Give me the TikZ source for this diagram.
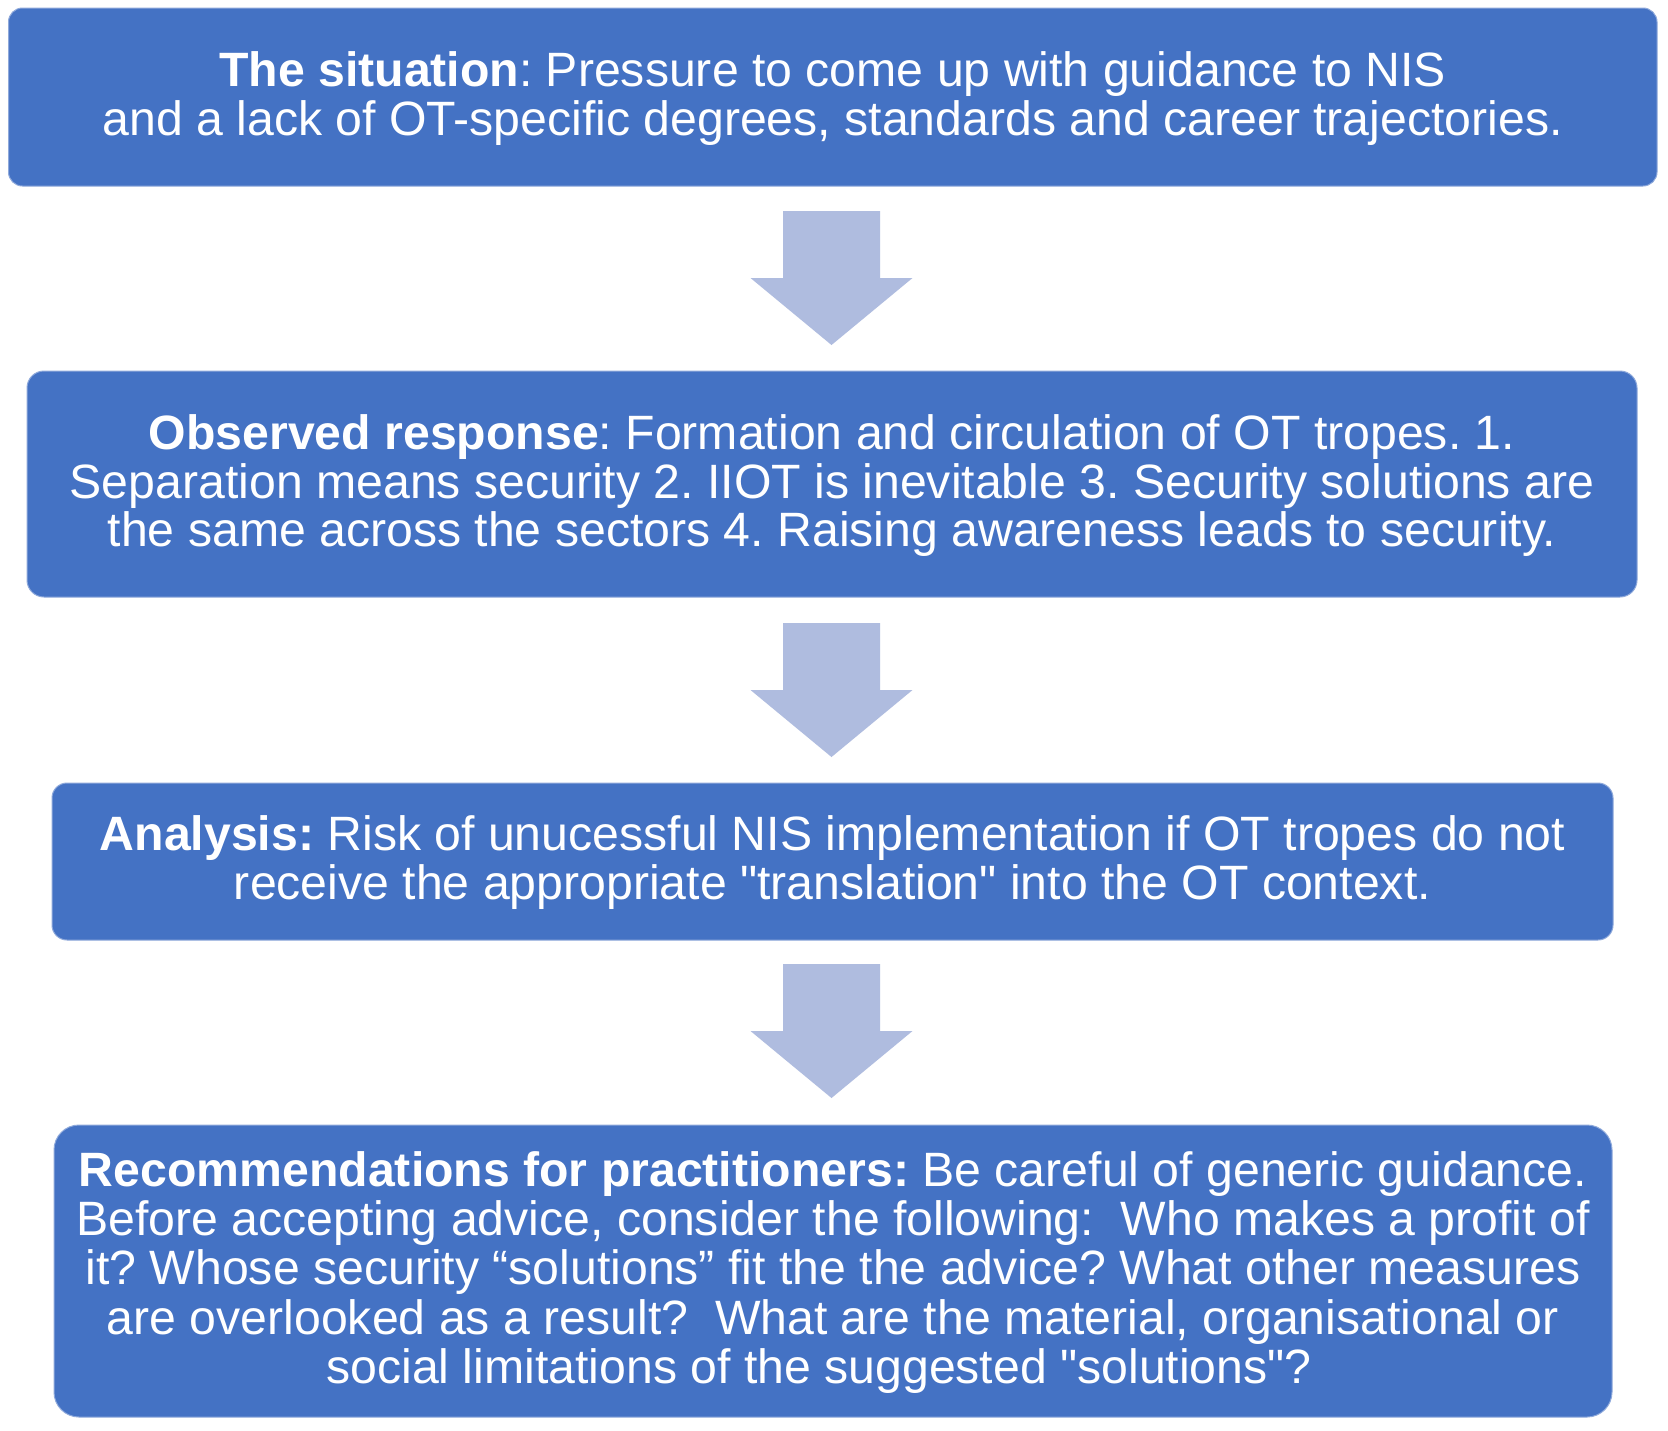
\documentclass[tikz,border=0pt]{standalone}
\usepackage{fontspec}
\setmainfont{Liberation Sans}[Ligatures=TeXOff]
\definecolor{boxblue}{HTML}{4472C4}
\definecolor{boxedge}{HTML}{8EA9DB}
\definecolor{arrowblue}{HTML}{AFBCDF}
\frenchspacing
\begin{document}
\begin{tikzpicture}[x=0.5pt,y=-0.5pt,
  box/.style={fill=boxblue, draw=boxedge, line width=0.5pt, inner sep=0pt},
  boxtext/.style={inner sep=0pt, text=white, align=center, text depth=0pt,
    font=\fontsize{24.1}{24.4}\selectfont},
  downarrow/.pic={\fill[arrowblue] (-48.5,0) -- (48.5,0) -- (48.5,67) -- (81,67)
    -- (0,134) -- (-81,67) -- (-48.5,67) -- cycle;}]
\useasboundingbox (0,0) rectangle (1668,1430);
\fill[white] (0,0) rectangle (1668,1430);

% boxes
\node[box, rounded corners=7pt, minimum width=824.25pt, minimum height=89pt] (b1) at (832.75,97) {};
\node[box, rounded corners=8.5pt, minimum width=805pt, minimum height=113pt] (b2) at (832,484) {};
\node[box, rounded corners=7.5pt, minimum width=780.5pt, minimum height=78.5pt] (b3) at (832.5,861.5) {};
\node[box, rounded corners=12.5pt, minimum width=779pt, minimum height=146pt] (b4) at (833,1271) {};

% texts
\node[boxtext] (t1) at ([yshift=1.9pt]b1.center)
  {\textbf{The situation}: Pressure to come up with guidance to NIS\\
   and a lack of OT-specific degrees, standards and career trajectories.};

\node[boxtext] (t2) at ([yshift=1.7pt]b2.center)
  {\textbf{Observed response}: Formation and circulation of OT tropes. 1.\\
   Separation means security 2. IIOT is inevitable 3. Security solutions are\\
   the same across the sectors 4. Raising awareness leads to security.};

\node[boxtext] (t3) at ([yshift=1.9pt]b3.center)
  {\textbf{Analysis:} Risk of unucessful NIS implementation if OT tropes do not\\
   receive the appropriate "translation" into the OT context.};

\node[boxtext, font=\fontsize{24.1}{24.7}\selectfont] (t4) at ([yshift=1.8pt]b4.center)
  {\textbf{Recommendations for practitioners:} Be careful of generic guidance.\\
   Before accepting advice, consider the following:\ \ Who makes a profit of\\
   it? Whose security “solutions” fit the the advice? What other measures\\
   are overlooked as a result?\ \ What are the material, organisational or\\
   social limitations of the suggested "solutions"?\hspace*{14pt}};

% arrows
\pic at (831.5,211) {downarrow};
\pic at (831.5,623) {downarrow};
\pic at (831.5,964) {downarrow};
\end{tikzpicture}
\end{document}
